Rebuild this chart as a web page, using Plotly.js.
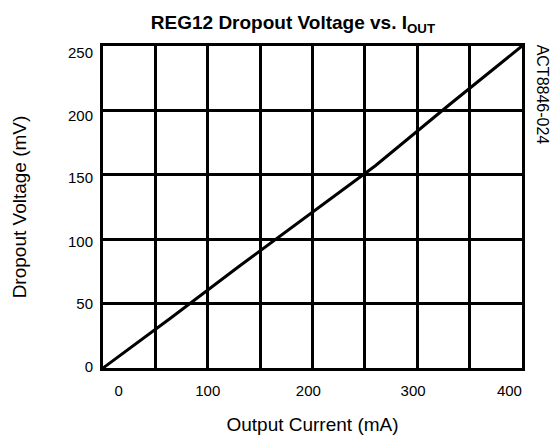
<!DOCTYPE html>
<html>
<head>
<meta charset="utf-8">
<script src="https://cdn.plot.ly/plotly-3.0.1.min.js"></script>
<style>html,body{margin:0;padding:0;background:#fff;}#chart{width:558px;height:439px;}</style>
</head>
<body>
<div id="chart"></div>
<script>
// Output current (mA) and dropout voltage (mV)
var currentMA = [0, 65, 130, 200, 260, 330, 400];
var dropoutMV = [0, 39, 79, 121, 157, 204, 250];
// tick labels (placed where the reference prints them)
var xTickVals = [15, 100, 196, 296, 388];
var xTickText = ["0", "100", "200", "300", "400"];
var yTickVals = [1, 50, 98, 148, 196, 245];
var yTickText = ["0", "50", "100", "150", "200", "250"];

var font = "Liberation Sans, Arial, sans-serif";
var data = [{
  x: currentMA, y: dropoutMV, type: "scatter", mode: "lines",
  line: {color: "#000", width: 3}, hoverinfo: "skip", showlegend: false
}];
var layout = {
  width: 558, height: 439,
  margin: {l: 103, r: 36, t: 46, b: 71},
  paper_bgcolor: "#fff", plot_bgcolor: "#fff",
  font: {family: font, color: "#000"},
  title: {text: "<b>REG12 Dropout Voltage vs. I<sub>OUT</sub></b>", font: {size: 19, family: font}, x: 0.525, xanchor: "center", y: 0.948, yanchor: "middle"},
  xaxis: {range: [0, 400], dtick: 50, tick0: 0, showgrid: true, gridcolor: "#000", gridwidth: 3,
          showticklabels: false, ticks: "", zeroline: false, showline: true, linecolor: "#000", linewidth: 3, mirror: true},
  yaxis: {range: [0, 250], dtick: 50, tick0: 0, showgrid: true, gridcolor: "#000", gridwidth: 3,
          showticklabels: false, ticks: "", zeroline: false, showline: true, linecolor: "#000", linewidth: 3, mirror: true},
  xaxis2: {overlaying: "x", side: "bottom", range: [0, 400], tickvals: xTickVals, ticktext: xTickText,
           showgrid: false, zeroline: false, ticks: "", ticklabelstandoff: 12, tickfont: {size: 15}, showline: false,
           title: {text: "Output Current (mA)", font: {size: 19}, standoff: 19}},
  yaxis2: {overlaying: "y", side: "left", range: [0, 250], tickvals: yTickVals, ticktext: yTickText,
           showgrid: false, zeroline: false, ticks: "", ticklabelstandoff: 9, tickfont: {size: 15}, showline: false,
           title: {text: "Dropout Voltage (mV)", font: {size: 19}, standoff: 36}},
  annotations: [{text: "ACT8846-024", textangle: 90, xref: "paper", yref: "paper", x: 1.023, y: 1.01,
                 xanchor: "left", yanchor: "top", showarrow: false, font: {size: 16, family: font}}]
};
// invisible trace so the label axes are drawn
data.push({x: [0], y: [0], xaxis: "x2", yaxis: "y2", type: "scatter", mode: "markers", marker: {opacity: 0}, hoverinfo: "skip", showlegend: false});
Plotly.newPlot("chart", data, layout, {displayModeBar: false, staticPlot: true});
</script>
</body>
</html>
